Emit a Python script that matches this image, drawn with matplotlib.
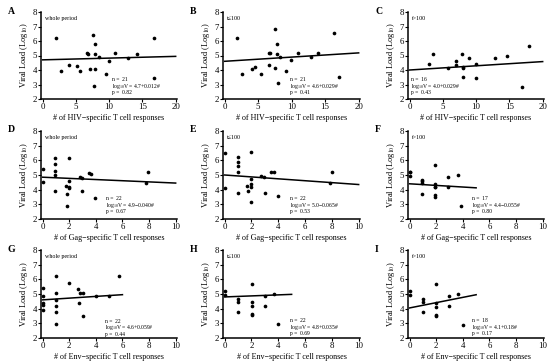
import matplotlib
matplotlib.use("Agg")
import matplotlib.pyplot as plt

plt.rcParams['font.family'] = ['Liberation Serif', 'DejaVu Serif']
plt.rcParams['mathtext.fontset'] = 'stix'

# ---- data ----
# HIV-specific responses (panels A-C)
a_x = [2.0, 2.8, 4.0, 5.2, 5.6, 6.65, 6.8, 7.1, 7.6, 7.7, 7.8, 7.9, 7.9, 8.5, 9.45, 9.9, 10.9, 12.9, 14.2, 16.8, 16.8]
a_y = [6.18, 3.93, 4.32, 4.25, 3.9, 5.2, 5.08, 4.1, 6.42, 2.92, 4.1, 5.8, 5.1, 4.87, 3.75, 4.62, 5.2, 4.83, 5.1, 6.18, 3.43]

b_x = [1.84, 2.63, 4.07, 4.57, 5.4, 6.65, 6.7, 6.65, 7.5, 7.55, 7.8, 7.85, 8.3, 9.13, 7.9, 9.9, 10.9, 12.95, 13.95, 16.3, 17.0]
b_y = [6.18, 3.75, 4.05, 4.2, 3.7, 5.2, 5.15, 4.34, 6.85, 4.14, 5.77, 5.08, 4.87, 3.9, 3.13, 4.68, 5.2, 4.87, 5.2, 6.58, 3.52]

c_x = [2.95, 3.5, 5.7, 6.93, 6.93, 7.9, 7.96, 7.96, 7.96, 8.94, 9.93, 9.93, 12.9, 14.6, 16.95, 17.9]
c_y = [4.44, 5.08, 4.11, 4.64, 4.34, 5.13, 4.11, 4.2, 3.54, 4.8, 4.39, 3.47, 4.8, 4.97, 2.85, 5.63]

# Gag-specific responses (panels D-F)
d_x = [0, 0, 0.95, 0.95, 0.95, 0.95, 0.95, 1.96, 1.74, 1.81, 1.83, 2.0, 2.0, 2.0, 2.81, 2.93, 2.96, 3.45, 3.64, 3.96, 7.75, 7.95]
d_y = [5.39, 4.52, 6.19, 5.76, 5.3, 5.03, 3.93, 6.19, 4.25, 3.72, 2.92, 4.59, 4.11, 4.2, 4.86, 4.8, 3.89, 5.17, 5.08, 3.43, 4.48, 5.2]

e_x = [0, 0, 0.99, 0.99, 0.99, 0.99, 0.99, 1.65, 1.75, 1.97, 1.97, 1.97, 1.97, 1.97, 2.73, 2.96, 2.98, 3.47, 3.69, 3.99, 7.83, 8.0]
e_y = [6.48, 4.14, 6.25, 5.86, 5.59, 5.2, 3.77, 4.27, 3.93, 6.6, 4.7, 4.4, 4.2, 3.13, 4.9, 4.84, 3.77, 5.2, 5.22, 3.59, 4.43, 5.2]

f_x = [0, 0, 0.96, 0.96, 0.96, 1.94, 1.94, 1.94, 1.94, 1.94, 2.92, 2.92, 3.61, 3.9, 0.96, 1.94, 0]
f_y = [5.2, 4.9, 4.64, 4.43, 3.7, 5.67, 4.41, 4.16, 3.61, 3.52, 4.86, 4.16, 4.98, 2.88, 4.6, 4.2, 5.2]

# Env-specific responses (panels G-I)
g_x = [0, 0, 0, 0, 0, 0.98, 0.98, 0.98, 0.98, 0.98, 0.98, 2.0, 2.64, 2.81, 3.0, 2.71, 3.0, 4.03, 5.0, 5.77]
g_y = [5.4, 4.86, 4.36, 4.27, 3.9, 6.22, 5.06, 4.61, 4.16, 3.77, 2.95, 5.72, 5.34, 5.09, 5.09, 4.36, 3.47, 4.84, 4.88, 6.22]

h_x = [0, 0, 1.0, 1.0, 1.0, 2.04, 2.04, 2.04, 2.04, 2.04, 3.03, 3.03, 3.7, 4.01]
h_y = [5.22, 4.93, 4.68, 4.48, 3.76, 5.67, 4.43, 4.16, 3.62, 3.55, 4.88, 4.18, 5.02, 2.97]

i_x = [0, 0, 1.0, 1.0, 1.0, 1.98, 1.98, 1.98, 1.98, 1.98, 2.96, 2.96, 3.64, 3.99]
i_y = [5.2, 4.93, 4.68, 4.48, 3.76, 5.66, 4.41, 4.14, 3.6, 3.53, 4.86, 4.16, 5.02, 2.91]

# fitted lines: intercept, slope, x range of the drawn line
intercepts = [4.7, 4.6, 4.0, 4.85, 5.0, 4.4, 4.6, 4.8, 4.05]
slopes = [0.012, 0.029, 0.029, -0.040, -0.065, -0.055, 0.059, 0.035, 0.18]
line_end = [20, 20, 20, 10, 10, 5, 6, 5, 5]

letters = ["A", "B", "C", "D", "E", "F", "G", "H", "I"]
periods = ["whole period", "t\u2264100", "t>100"] * 3
n_vals = [21, 21, 16, 22, 22, 17, 22, 22, 18]
eq_text = ["4.7+0.012#", "4.6+0.029#", "4.0+0.029#",
           "4.9\u22120.040#", "5.0\u22120.065#", "4.4\u22120.055#",
           "4.6+0.059#", "4.8+0.035#", "4.1+0.18#"]
p_vals = ["0.82", "0.41", "0.43", "0.67", "0.53", "0.80", "0.44", "0.69", "0.17"]
xlabels = ["# of HIV\u2212specific T cell responses",
           "# of Gag\u2212specific T cell responses",
           "# of Env\u2212specific T cell responses"]

xs = [a_x, b_x, c_x, d_x, e_x, f_x, g_x, h_x, i_x]
ys = [a_y, b_y, c_y, d_y, e_y, f_y, g_y, h_y, i_y]

fig = plt.figure(figsize=(5.5, 3.61), dpi=100)

col_left = [41, 223, 408]
col_w = [136, 137, 136]
row_top = [12, 131, 250]
row_h = [87, 88, 88]
W, H = 550.0, 361.0

# text anchor (axes fraction) for the n / eq / p block
stat_pos = [(0.52, 0.22), (0.49, 0.22), (0.02, 0.22),
            (0.48, 0.23), (0.49, 0.23), (0.47, 0.23),
            (0.47, 0.19), (0.49, 0.20), (0.47, 0.20)]

for k in range(9):
    r, c = divmod(k, 3)
    ax = fig.add_axes([col_left[c] / W, 1 - (row_top[r] + row_h[r]) / H,
                       col_w[c] / W, row_h[r] / H])
    ax.scatter(xs[k], ys[k], s=7, color="black", zorder=3, linewidths=0)
    lx = [0, line_end[k]]
    ly = [intercepts[k] + slopes[k] * v for v in lx]
    ax.plot(lx, ly, color="black", lw=1.1)

    if r == 0:
        ax.set_xlim(-0.25, 20.2)
        ax.set_xticks([0, 5, 10, 15, 20])
    else:
        ax.set_xlim(-0.12, 10.1)
        ax.set_xticks([0, 2, 4, 6, 8, 10])
    ax.set_ylim(2, 8)
    ax.set_yticks([2, 3, 4, 5, 6, 7, 8])

    for s in ["top", "right"]:
        ax.spines[s].set_visible(False)
    for s in ["left", "bottom"]:
        ax.spines[s].set_linewidth(1.1)
    ax.tick_params(direction="out", length=2, width=0.8, labelsize=6.3, pad=1)
    ax.set_xlabel(xlabels[r], fontsize=5.8, labelpad=2)
    ax.set_ylabel("Viral Load (Log$_{10}$)", fontsize=6, labelpad=2)

    ax.text(0.03, 0.93, periods[k], transform=ax.transAxes, fontsize=4.3, va="center")
    sx, sy = stat_pos[k]
    ax.text(sx, sy, "n =  %d" % n_vals[k], transform=ax.transAxes, fontsize=4.1, va="center")
    ax.text(sx, sy - 0.075, "log$_{10}$V = " + eq_text[k], transform=ax.transAxes,
            fontsize=4.1, va="center")
    ax.text(sx, sy - 0.15, "p =  " + p_vals[k], transform=ax.transAxes, fontsize=4.1, va="center")

    fig.text((col_left[c] - 33) / W, 1 - (row_top[r] - 1) / H, letters[k],
             fontsize=7, fontweight="bold", va="center")

fig.savefig("out.png", dpi=100)
